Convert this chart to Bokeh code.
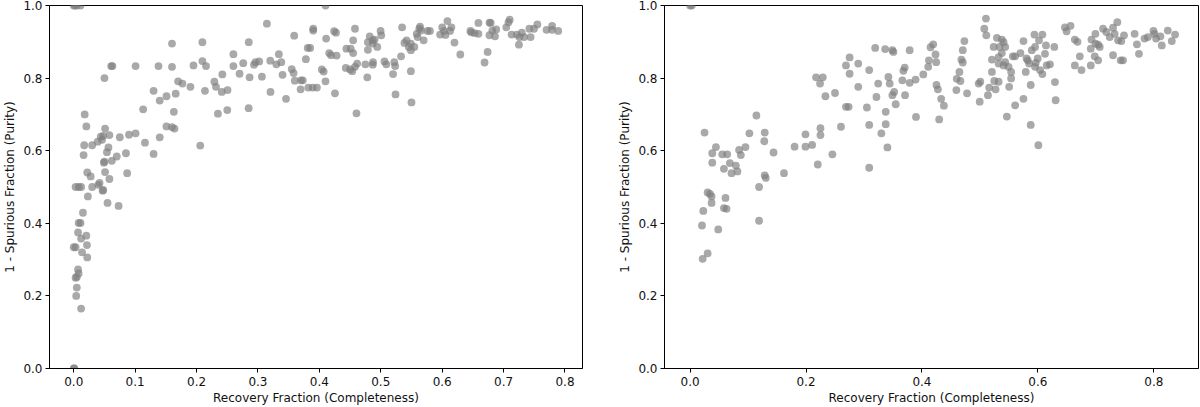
from bokeh.plotting import figure
from bokeh.layouts import row
from bokeh.models import Range1d, FixedTicker, PrintfTickFormatter
from bokeh.embed import file_html
from bokeh.resources import INLINE

# ---------------- data ----------------
x_label = "Recovery Fraction (Completeness)"
y_label = "1 - Spurious Fraction (Purity)"

left_xticks = [0.0, 0.1, 0.2, 0.3, 0.4, 0.5, 0.6, 0.7, 0.8]
right_xticks = [0.0, 0.2, 0.4, 0.6, 0.8]
yticks = [0.0, 0.2, 0.4, 0.6, 0.8, 1.0]

left_x = [
    0.0, 0.002, 0.005, 0.011, 0.0, 0.001, 0.003, 0.0, 0.012, 0.004,
    0.005, 0.005, 0.003, 0.007, 0.008, 0.022, 0.0135, 0.0215, 0.0205, 0.012,
    0.007, 0.008, 0.011, 0.015, 0.023, 0.003, 0.008, 0.012, 0.030, 0.040,
    0.042, 0.047, 0.048, 0.055, 0.073, 0.058, 0.0275, 0.022, 0.051, 0.087,
    0.049, 0.05, 0.062, 0.07, 0.085, 0.13, 0.054, 0.0565, 0.016, 0.017,
    0.030, 0.039, 0.046, 0.044, 0.048, 0.058, 0.075, 0.09, 0.1007, 0.116,
    0.14, 0.206, 0.16, 0.164, 0.151, 0.0205, 0.051, 0.0178, 0.113, 0.163,
    0.14, 0.151, 0.166, 0.13, 0.17, 0.177, 0.19, 0.05, 0.061, 0.063,
    0.1007, 0.138, 0.16, 0.195, 0.16, 0.41, 0.3145, 0.2095, 0.285, 0.359,
    0.39, 0.39, 0.424, 0.427, 0.458, 0.411, 0.455, 0.479, 0.482, 0.487,
    0.26, 0.334, 0.381, 0.385, 0.416, 0.419, 0.428, 0.444, 0.451, 0.455,
    0.479, 0.487, 0.2095, 0.2154, 0.26, 0.276, 0.2935, 0.296, 0.302, 0.32,
    0.33, 0.338, 0.378, 0.443, 0.45, 0.4535, 0.458, 0.4615, 0.475, 0.487,
    0.2137, 0.229, 0.2316, 0.241, 0.2504, 0.242, 0.27, 0.2864, 0.3064, 0.34,
    0.355, 0.358, 0.36, 0.37, 0.373, 0.404, 0.407, 0.41, 0.478, 0.3204,
    0.3457, 0.3694, 0.382, 0.389, 0.396, 0.4254, 0.2348, 0.25, 0.2848, 0.4604,
    0.6085, 0.71, 0.708, 0.677, 0.679, 0.659, 0.5347, 0.564, 0.5627, 0.5654,
    0.576, 0.58, 0.6, 0.603, 0.615, 0.6128, 0.5966, 0.6053, 0.646, 0.6527,
    0.659, 0.6474, 0.6817, 0.688, 0.677, 0.686, 0.7044, 0.713, 0.7216, 0.7297,
    0.7258, 0.7334, 0.744, 0.742, 0.7496, 0.755, 0.725, 0.77, 0.779, 0.779,
    0.789, 0.62, 0.6295, 0.674, 0.669, 0.5385, 0.542, 0.549, 0.5456, 0.549,
    0.5546, 0.5585, 0.5698, 0.56, 0.533, 0.4997, 0.5008, 0.49, 0.4943, 0.4874,
    0.506, 0.509, 0.522, 0.5234, 0.52, 0.549, 0.524, 0.55,
]
left_y = [
    1.0, 1.0, 1.0, 1.0, 0.0, 0.0, 0.334, 0.334, 0.165, 0.2,
    0.223, 0.252, 0.25, 0.273, 0.262, 0.306, 0.32, 0.34, 0.366, 0.358,
    0.375, 0.401, 0.401, 0.429, 0.474, 0.5, 0.5, 0.5, 0.5, 0.506,
    0.511, 0.49, 0.492, 0.456, 0.448, 0.522, 0.529, 0.54, 0.541, 0.538,
    0.567, 0.57, 0.572, 0.584, 0.593, 0.591, 0.596, 0.609, 0.588, 0.615,
    0.615, 0.625, 0.63, 0.639, 0.641, 0.643, 0.637, 0.644, 0.648, 0.622,
    0.637, 0.614, 0.665, 0.661, 0.667, 0.667, 0.661, 0.7, 0.714, 0.707,
    0.738, 0.75, 0.757, 0.765, 0.791, 0.785, 0.776, 0.8, 0.833, 0.833,
    0.833, 0.833, 0.831, 0.835, 0.895, 1.0, 0.95, 0.899, 0.899, 0.917,
    0.936, 0.931, 0.929, 0.925, 0.936, 0.909, 0.904, 0.899, 0.915, 0.904,
    0.866, 0.866, 0.883, 0.883, 0.869, 0.863, 0.862, 0.881, 0.881, 0.869,
    0.878, 0.895, 0.847, 0.833, 0.833, 0.841, 0.837, 0.844, 0.846, 0.848,
    0.838, 0.844, 0.852, 0.828, 0.824, 0.819, 0.831, 0.84, 0.838, 0.837,
    0.765, 0.79, 0.776, 0.762, 0.767, 0.81, 0.812, 0.802, 0.804, 0.809,
    0.825, 0.814, 0.793, 0.794, 0.794, 0.824, 0.818, 0.791, 0.802, 0.762,
    0.743, 0.769, 0.774, 0.774, 0.774, 0.758, 0.702, 0.712, 0.717, 0.703,
    0.957, 0.961, 0.954, 0.953, 0.952, 0.952, 0.94, 0.942, 0.936, 0.931,
    0.93, 0.93, 0.94, 0.93, 0.94, 0.93, 0.92, 0.919, 0.93, 0.924,
    0.922, 0.926, 0.931, 0.934, 0.918, 0.915, 0.94, 0.92, 0.92, 0.925,
    0.913, 0.913, 0.913, 0.936, 0.936, 0.948, 0.892, 0.933, 0.944, 0.933,
    0.93, 0.898, 0.865, 0.872, 0.843, 0.897, 0.904, 0.895, 0.886, 0.877,
    0.886, 0.922, 0.904, 0.913, 0.86, 0.93, 0.918, 0.906, 0.886, 0.844,
    0.846, 0.838, 0.844, 0.833, 0.811, 0.819, 0.755, 0.733,
]

right_x = [
    0.0, 0.003, 0.0217, 0.0303, 0.0206, 0.0486, 0.0228, 0.0303, 0.0343, 0.0371,
    0.0371, 0.0611, 0.0584, 0.0629, 0.025, 0.0446, 0.0383, 0.0383, 0.0555, 0.064,
    0.0584, 0.0687, 0.0715, 0.079, 0.0817, 0.0846, 0.0876, 0.0955, 0.1023, 0.1144,
    0.1288, 0.128, 0.1288, 0.1305, 0.144, 0.119, 0.119, 0.162, 0.1803, 0.1991,
    0.1991, 0.2105, 0.2203, 0.2249, 0.2249, 0.2174, 0.2289, 0.2242, 0.2335, 0.25,
    0.2455, 0.2603, 0.2689, 0.2735, 0.2689, 0.2752, 0.2752, 0.2901, 0.2901, 0.305,
    0.309, 0.309, 0.309, 0.3193, 0.3215, 0.3245, 0.33, 0.3365, 0.3375, 0.3375,
    0.3404, 0.3421, 0.3444, 0.349, 0.3507, 0.349, 0.352, 0.3547, 0.3702, 0.3679,
    0.3662, 0.3788, 0.3708, 0.3788, 0.389, 0.4023, 0.3897, 0.4108, 0.412, 0.4148,
    0.4194, 0.4234, 0.4245, 0.425, 0.4275, 0.4331, 0.4378, 0.4297, 0.4594, 0.5104,
    0.5075, 0.511, 0.4732, 0.4704, 0.468, 0.4704, 0.4646, 0.46, 0.4663, 0.4778,
    0.4979, 0.5006, 0.4996, 0.5138, 0.516, 0.5247, 0.527, 0.5322, 0.5207, 0.5293,
    0.5236, 0.5339, 0.5378, 0.5408, 0.5435, 0.5207, 0.5322, 0.5378, 0.5322, 0.5408,
    0.5435, 0.5494, 0.5538, 0.5538, 0.5504, 0.5464, 0.5607, 0.5751, 0.5876, 0.6008,
    0.5876, 0.5567, 0.5607, 0.5699, 0.5751, 0.5803, 0.579, 0.5894, 0.594, 0.5951,
    0.5997, 0.6019, 0.6077, 0.5825, 0.5848, 0.5963, 0.5951, 0.6036, 0.6077, 0.6139,
    0.6122, 0.6151, 0.6208, 0.6283, 0.6294, 0.6306, 0.6466, 0.6495, 0.6563, 0.6637,
    0.6683, 0.6637, 0.6723, 0.6752, 0.6912, 0.6912, 0.6924, 0.698, 0.6992, 0.7039,
    0.7039, 0.737, 0.7296, 0.7324, 0.7124, 0.7181, 0.6993, 0.7238, 0.7382, 0.7439,
    0.7485, 0.7067, 0.7296, 0.7427, 0.7468, 0.7668, 0.7708, 0.7743, 0.7839, 0.7897,
    0.7993, 0.801, 0.8039, 0.8113, 0.8137, 0.824, 0.8309, 0.8366,
]
right_y = [
    1.0, 1.0, 0.302, 0.317, 0.394, 0.383, 0.434, 0.485, 0.481, 0.474,
    0.456, 0.47, 0.442, 0.44, 0.65, 0.61, 0.593, 0.567, 0.59, 0.59,
    0.55, 0.566, 0.538, 0.559, 0.543, 0.602, 0.588, 0.61, 0.648, 0.697,
    0.65, 0.626, 0.532, 0.525, 0.595, 0.5, 0.407, 0.538, 0.611, 0.645,
    0.611, 0.616, 0.562, 0.662, 0.643, 0.802, 0.802, 0.785, 0.75, 0.759,
    0.59, 0.666, 0.721, 0.721, 0.835, 0.857, 0.812, 0.84, 0.776, 0.719,
    0.822, 0.671, 0.553, 0.883, 0.748, 0.785, 0.648, 0.88, 0.707, 0.673,
    0.609, 0.803, 0.785, 0.877, 0.872, 0.753, 0.762, 0.728, 0.829, 0.82,
    0.794, 0.877, 0.753, 0.787, 0.796, 0.81, 0.693, 0.831, 0.849, 0.885,
    0.893, 0.865, 0.844, 0.781, 0.769, 0.743, 0.724, 0.686, 0.767, 0.964,
    0.936, 0.918, 0.902, 0.877, 0.851, 0.843, 0.817, 0.798, 0.792, 0.758,
    0.785, 0.79, 0.735, 0.753, 0.774, 0.792, 0.769, 0.79, 0.817, 0.911,
    0.886, 0.886, 0.906, 0.899, 0.886, 0.851, 0.858, 0.869, 0.84, 0.835,
    0.844, 0.831, 0.817, 0.799, 0.776, 0.694, 0.725, 0.743, 0.671, 0.615,
    0.781, 0.86, 0.86, 0.869, 0.902, 0.854, 0.817, 0.877, 0.92, 0.886,
    0.854, 0.904, 0.92, 0.849, 0.84, 0.842, 0.831, 0.822, 0.811, 0.89,
    0.867, 0.835, 0.838, 0.886, 0.789, 0.739, 0.94, 0.929, 0.944, 0.906,
    0.9, 0.835, 0.86, 0.822, 0.835, 0.881, 0.906, 0.86, 0.922, 0.849,
    0.892, 0.954, 0.939, 0.922, 0.936, 0.927, 0.895, 0.913, 0.904, 0.902,
    0.918, 0.886, 0.863, 0.849, 0.849, 0.922, 0.893, 0.867, 0.909, 0.913,
    0.93, 0.922, 0.909, 0.915, 0.89, 0.931, 0.902, 0.92,
]

FONT = "DejaVu Sans"


def make_panel(xs, ys, xr, xticks, width, border_left, border_right):
    p = figure(
        width=width, height=407,
        x_range=Range1d(*xr), y_range=Range1d(0.0, 1.0),
        output_backend="svg", toolbar_location=None,
        min_border_left=border_left, min_border_right=border_right,
        min_border_top=5, min_border_bottom=36,
        background_fill_color="white", border_fill_color="white",
    )
    p.scatter(xs, ys, size=7.8, marker="circle",
              fill_color="gray", line_color=None, fill_alpha=0.68)
    p.xgrid.visible = False
    p.ygrid.visible = False
    p.outline_line_color = "black"
    p.outline_line_width = 1
    p.xaxis.ticker = FixedTicker(ticks=xticks)
    p.yaxis.ticker = FixedTicker(ticks=yticks)
    for ax in (p.xaxis[0], p.yaxis[0]):
        ax.formatter = PrintfTickFormatter(format="%.1f")
        ax.axis_line_color = "black"
        ax.axis_line_width = 1
        ax.major_tick_line_color = "black"
        ax.major_tick_out = 4
        ax.major_tick_in = 0
        ax.minor_tick_line_color = None
        ax.major_label_text_font = FONT
        ax.major_label_text_font_size = "12px"
        ax.major_label_text_color = "#111111"
        ax.axis_label_text_font = FONT
        ax.axis_label_text_font_size = "12px"
        ax.axis_label_text_font_style = "normal"
        ax.axis_label_text_color = "#111111"
        ax.major_label_standoff = 3
    p.xaxis.axis_label = x_label
    p.yaxis.axis_label = y_label
    p.xaxis.major_label_standoff = 4
    p.xaxis.axis_label_standoff = 2
    p.yaxis.axis_label_standoff = 3
    return p


p1 = make_panel(left_x, left_y, (-0.0395, 0.8285), left_xticks, 615, 45, 33)
p2 = make_panel(right_x, right_y, (-0.0441, 0.877), right_xticks, 585, 46, 2)

layout = row(p1, p2)
open("out.html", "w").write(file_html(layout, INLINE))
